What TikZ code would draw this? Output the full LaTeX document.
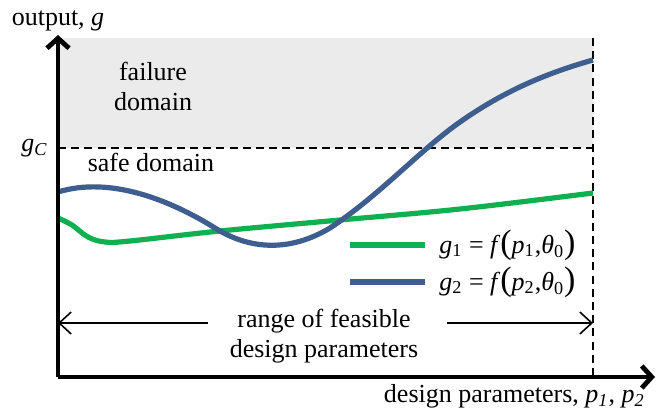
\documentclass[tikz,border=0pt]{standalone}
\usepackage{fontspec}
\setmainfont{Liberation Serif}
\usepackage{tikz}
\usetikzlibrary{arrows.meta,positioning}

\definecolor{gOne}{RGB}{16,176,80}
\definecolor{gTwo}{RGB}{61,94,143}
\definecolor{failfill}{RGB}{235,235,235}

\newcommand{\iv}[1]{\textit{#1}}
\newcommand{\bigpar}[1]{{\fontsize{17}{17}\selectfont #1}}

\tikzset{
  axis/.style={line width=2.4pt, -{Straight Barb[length=5pt,width=11pt]}},
  limit/.style={line width=1pt, dash pattern=on 4pt off 2.6pt},
  curve/.style={line width=2.6pt},
  span/.style={line width=0.8pt},
  lbl/.style={font=\fontsize{13}{15}\selectfont, inner sep=1pt}
}

\begin{document}
\begin{tikzpicture}[x=0.5pt, y=-0.5pt]
    \useasboundingbox (0,0) rectangle (657,411);

    % Axes and limits
    \coordinate (origin) at (58,377);
    \coordinate (ytip) at (58,35);
    \coordinate (xtip) at (655,377);
    \coordinate (gc) at (58,148);
    \coordinate (gcend) at (593,148);
    \coordinate (rtop) at (593,38);
    \coordinate (rbot) at (593,377);

    \fill[failfill] (58,38) rectangle (593,148);
    \draw[limit] (gc) -- (gcend);
    \draw[limit] (rtop) -- (rbot);

    % Output curves
    \draw[curve, gOne] plot[smooth, tension=0.6] coordinates {(58,218) (72,225) (88,237) (105,242) (130,241) (220,231) (340,220) (460,209) (593,193)};
    \draw[curve, gTwo] (58,192) .. controls (110,176) and (170,200) .. (215,228)
        .. controls (250,250) and (290,252) .. (330,228)
        .. controls (380,195) and (420,150) .. (460,122)
        .. controls (500,94) and (540,75) .. (593,60);

    \draw[axis] (origin) -- (ytip);
    \draw[axis] (origin) -- (xtip);

    % Labels
    \node[lbl, above=1pt of ytip] (ylabel) {output, \iv{g}};
    \node[lbl, left=4pt of gc] (gclabel) {\iv{g}\textsubscript{\iv{C}}};
    \node[lbl, align=center] (fail) at (153,86) {failure\\domain};
    \node[lbl] (safe) at (151,162) {safe domain};
    \node[lbl, anchor=north east] (xlabel) at (647,382) {design parameters, \iv{p}\textsubscript{\iv{1}}, \iv{p}\textsubscript{\iv{2}}};

    % Legend
    \coordinate (leg1a) at (350,245);
    \coordinate (leg1b) at (425,245);
    \coordinate (leg2a) at (350,282);
    \coordinate (leg2b) at (425,282);
    \draw[curve, gOne] (leg1a) -- (leg1b);
    \draw[curve, gTwo] (leg2a) -- (leg2b);
    \node[lbl, anchor=west] (leg1) at ([xshift=6]leg1b) {\iv{g}\textsubscript{1} = \iv{f}\bigpar{(}\iv{p}\textsubscript{1},\iv{θ}\textsubscript{0}\bigpar{)}};
    \node[lbl, anchor=west] (leg2) at ([xshift=6]leg2b) {\iv{g}\textsubscript{2} = \iv{f}\bigpar{(}\iv{p}\textsubscript{2},\iv{θ}\textsubscript{0}\bigpar{)}};

    % Feasible range
    \node[lbl, align=center] (range) at (324,336) {range of feasible\\design parameters};
    \coordinate (rleft) at (58,323);
    \coordinate (rright) at (593,323);
    \coordinate (gapleft) at (208,323);
    \coordinate (gapright) at (447,323);
    \draw[span, {Straight Barb[length=6pt,width=11pt]}-] (rleft) -- (gapleft);
    \draw[span, -{Straight Barb[length=6pt,width=11pt]}] (gapright) -- (rright);
\end{tikzpicture}
\end{document}
